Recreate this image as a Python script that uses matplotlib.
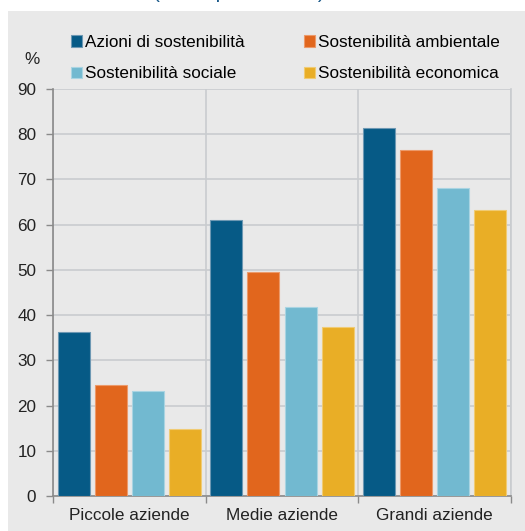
import numpy as np
import matplotlib.pyplot as plt
from matplotlib.patches import Rectangle

# Data
groups = ["Piccole aziende", "Medie aziende", "Grandi aziende"]
series = ["Azioni di sostenibilità", "Sostenibilità ambientale",
          "Sostenibilità sociale", "Sostenibilità economica"]
azioni = [36.2, 61.1, 81.4]
ambientale = [24.5, 49.5, 76.5]
sociale = [23.2, 41.7, 68.1]
economica = [14.8, 37.3, 63.2]
yticks = [0, 10, 20, 30, 40, 50, 60, 70, 80, 90]

colors = ["#065a86", "#e1661d", "#72b9d0", "#e9ae26"]
edges = ["#6d98b3", "#ec9a6a", "#a9d4e2", "#f0cb74"]
panel = "#e9e9e9"
grid = "#c9cccf"
fs = 12.3

plt.rcParams['font.family'] = ['Liberation Sans', 'DejaVu Sans']

fig = plt.figure(figsize=(5.25, 5.31), dpi=100)
fig.patch.set_facecolor("white")
fig.patches.append(Rectangle((8/525, 0), 1, 1 - 11/531, transform=fig.transFigure,
                             facecolor=panel, edgecolor="none", zorder=-5))
# title, mostly cut off at the top edge (as in the source)
fig.text(153/525, 1 + 1.5/531, "(valori percentuali)", color="#1a5a8a",
         fontsize=15, ha="left", va="baseline")

ax = fig.add_axes([53/525, 1 - 496/531, 458/525, 407/531])
ax.set_facecolor(panel)

x = np.arange(len(groups))
width = 0.21
step = 0.243
handles = []
for k, vals in enumerate([azioni, ambientale, sociale, economica]):
    b = ax.bar(x + (k - 1.5) * step, vals, width, color=colors[k],
               edgecolor=edges[k], linewidth=0.8, zorder=3, label=series[k])
    handles.append(b)

ax.set_xlim(-0.5, 2.5)
ax.set_ylim(0, 90)
ax.set_yticks(yticks)
ax.set_xticks([-0.5, 0.5, 1.5, 2.5])
ax.set_xticklabels([])
ax.set_xticks(x, minor=True)
ax.set_xticklabels(groups, minor=True)
ax.tick_params(axis="x", which="minor", length=0, pad=9, labelsize=fs, colors="#222222")
ax.tick_params(axis="x", which="major", length=5, direction="out", color="#8a8a8a", width=1)
ax.tick_params(axis="y", length=5, direction="out", color="#8a8a8a", width=1,
               labelsize=fs, labelcolor="#222222", pad=7)

ax.grid(axis="y", color=grid, linewidth=1.2, zorder=1)
ax.grid(axis="x", which="major", color=grid, linewidth=1.2, zorder=1)
ax.spines["top"].set_visible(False)
ax.spines["right"].set_color(grid)
ax.spines["right"].set_linewidth(1.2)
ax.spines["left"].set_color("#8a8a8a")
ax.spines["bottom"].set_color("#8a8a8a")
ax.spines["left"].set_linewidth(1.2)
ax.spines["bottom"].set_linewidth(1.2)

order = [0, 2, 1, 3]
ax.legend([handles[i] for i in order], [series[i] for i in order], ncol=2,
          loc="upper left", bbox_to_anchor=(71/525, 1 - 35/531),
          bbox_transform=fig.transFigure, frameon=False, fontsize=fs,
          handlelength=0.62, handleheight=0.62, handletextpad=0.2,
          columnspacing=3.5, labelspacing=0.95, borderaxespad=0, borderpad=0)

fig.text(32/525, 1 - 60/531, "%", fontsize=fs, ha="center", va="center", color="#222222")

fig.savefig("out.png", dpi=100)
